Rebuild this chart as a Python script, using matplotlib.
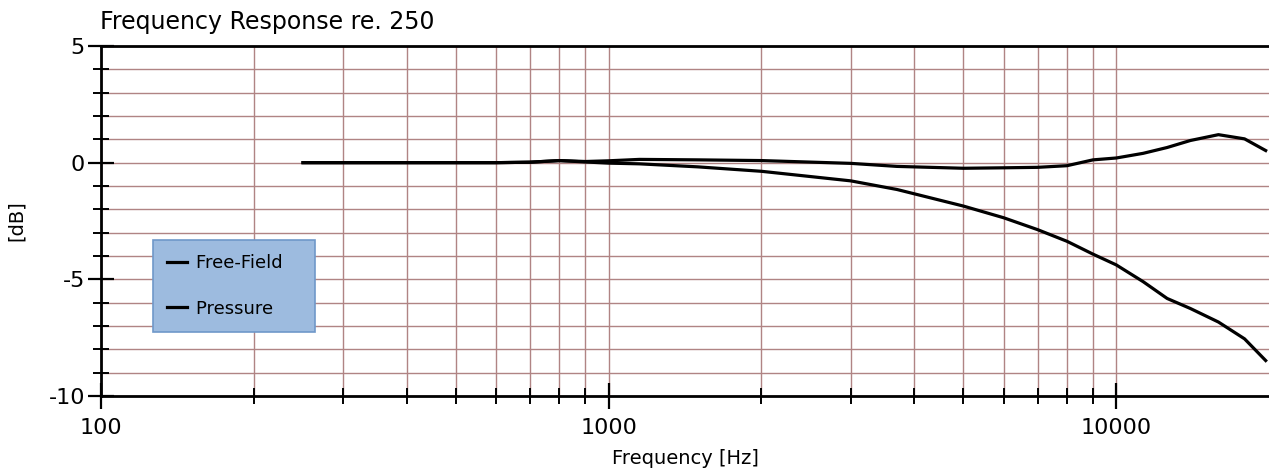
import matplotlib.pyplot as plt
from matplotlib.ticker import FixedLocator, NullFormatter

# readings taken off the chart
freq = [250, 400, 600, 700, 800, 900, 1000, 1150, 1500, 2000, 3000, 3700, 5000, 6000,
        7000, 8000, 9000, 10000, 11300, 12600, 14000, 15900, 17900, 19700]
free_field = [0.0, 0.0, 0.0, 0.02, 0.09, 0.05, 0.08, 0.14, 0.12, 0.09, -0.03, -0.16, -0.24, -0.22,
              -0.2, -0.13, 0.12, 0.2, 0.4, 0.65, 0.95, 1.2, 1.02, 0.52]
pressure = [0.0, 0.0, 0.0, 0.02, 0.09, 0.03, -0.02, -0.05, -0.18, -0.37, -0.78, -1.15, -1.86, -2.36,
            -2.87, -3.37, -3.92, -4.38, -5.1, -5.82, -6.25, -6.83, -7.55, -8.48]

x_major = [100, 1000, 10000]
x_minor = [200, 300, 400, 500, 600, 700, 800, 900,
           2000, 3000, 4000, 5000, 6000, 7000, 8000, 9000]
y_major = [-10, -5, 0, 5]
y_minor = [-9, -8, -7, -6, -4, -3, -2, -1, 1, 2, 3, 4]

grid_col = '#b08484'

fig = plt.figure(figsize=(12.69, 4.69), dpi=100)
ax = fig.add_axes([101 / 1269, 1 - 396 / 469, 1168 / 1269, 350 / 469])

ax.plot(freq, free_field, color='black', lw=2.3, label='Free-Field')
ax.plot(freq, pressure, color='black', lw=2.3, label='Pressure')

ax.set_xscale('log')
ax.set_xlim(100, 20000)
ax.set_ylim(-10, 5)

ax.xaxis.set_major_locator(FixedLocator(x_major))
ax.xaxis.set_minor_locator(FixedLocator(x_minor))
ax.xaxis.set_minor_formatter(NullFormatter())
ax.set_xticklabels([str(v) for v in x_major])
ax.yaxis.set_major_locator(FixedLocator(y_major))
ax.yaxis.set_minor_locator(FixedLocator(y_minor))
ax.set_yticklabels([str(v) for v in y_major])

ax.grid(which='both', axis='both', color=grid_col, lw=1.0)
ax.set_axisbelow(True)

ax.tick_params(which='major', direction='inout', length=19, width=1.6, labelsize=16, colors='black')
ax.tick_params(axis='x', which='major', pad=6)
ax.tick_params(axis='y', which='major', pad=2)
ax.tick_params(which='minor', direction='inout', length=11, width=1.4)

for s in ['left', 'bottom', 'top']:
    ax.spines[s].set_linewidth(2)
    ax.spines[s].set_color('black')
ax.spines['right'].set_visible(False)

ax.set_xlabel('Frequency [Hz]', fontsize=14, labelpad=8)
ax.set_ylabel('[dB]', fontsize=14, labelpad=16)
fig.text(100 / 1269, 1 - 22 / 469, 'Frequency Response re. 250', fontsize=17,
         fontweight='medium', ha='left', va='center')

leg = ax.legend(loc='upper left', bbox_to_anchor=((153 - 101) / 1168, (396 - 240) / 350),
                frameon=True, fancybox=False, fontsize=13, handlelength=1.1,
                labelspacing=1.5, borderpad=0.8, handletextpad=0.5, borderaxespad=0)
leg.get_frame().set_facecolor('#9dbbdf')
leg.get_frame().set_edgecolor('#6f98c9')
leg.get_frame().set_alpha(1)
leg.get_frame().set_linewidth(1.2)
for t in leg.get_texts():
    t.set_text(t.get_text() + '   ')

fig.savefig('out.png', dpi=100)
